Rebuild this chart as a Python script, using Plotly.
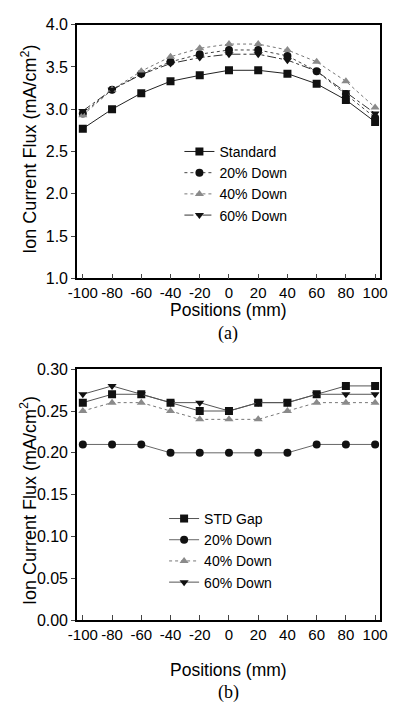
import plotly.graph_objects as go

positions = [-100, -80, -60, -40, -20, 0, 20, 40, 60, 80, 100]

# Panel (a)
a_names = ["Standard", "20% Down", "40% Down", "60% Down"]
a_standard = [2.77, 3.00, 3.19, 3.33, 3.40, 3.46, 3.46, 3.42, 3.30, 3.11, 2.85]
a_down20 = [2.95, 3.23, 3.42, 3.56, 3.65, 3.70, 3.70, 3.63, 3.45, 3.18, 2.90]
a_down40 = [2.93, 3.23, 3.45, 3.62, 3.72, 3.77, 3.77, 3.70, 3.56, 3.33, 3.02]
a_down60 = [2.98, 3.23, 3.41, 3.54, 3.61, 3.65, 3.65, 3.58, 3.45, 3.20, 2.95]

# Panel (b)
b_names = ["STD Gap", "20% Down", "40% Down", "60% Down"]
b_std = [0.26, 0.27, 0.27, 0.26, 0.25, 0.25, 0.26, 0.26, 0.27, 0.28, 0.28]
b_down20 = [0.21, 0.21, 0.21, 0.20, 0.20, 0.20, 0.20, 0.20, 0.21, 0.21, 0.21]
b_down40 = [0.25, 0.26, 0.26, 0.25, 0.24, 0.24, 0.24, 0.25, 0.26, 0.26, 0.26]
b_down60 = [0.27, 0.28, 0.27, 0.26, 0.26, 0.25, 0.26, 0.26, 0.27, 0.27, 0.27]

x_ticks = [-100, -80, -60, -40, -20, 0, 20, 40, 60, 80, 100]
x_ticktext = ["-100", "-80", "-60", "-40", "-20", "0", "20", "40", "60", "80", "100"]
a_yticks = [1.0, 1.5, 2.0, 2.5, 3.0, 3.5, 4.0]
b_yticks = [0.00, 0.05, 0.10, 0.15, 0.20, 0.25, 0.30]

FONT = "Liberation Sans"
W, H = 399, 714

styles = [
    dict(symbol="square", color="#111111", dash="solid", lc="#222222"),
    dict(symbol="circle", color="#111111", dash="dot", lc="#444444"),
    dict(symbol="triangle-up", color="#8a8a8a", dash="dot", lc="#777777"),
    dict(symbol="triangle-down", color="#111111", dash="dashdot", lc="#333333"),
]

fig = go.Figure()

for name, ys, st in zip(a_names, [a_standard, a_down20, a_down40, a_down60], styles):
    fig.add_trace(go.Scatter(
        x=positions, y=ys, name=name, mode="lines+markers",
        xaxis="x", yaxis="y", legend="legend",
        line=dict(color=st["lc"], width=1, dash=st["dash"]),
        marker=dict(symbol=st["symbol"], size=8, color=st["color"]),
    ))

b_styles = [
    dict(symbol="square", color="#111111", dash="solid", lc="#555555"),
    dict(symbol="circle", color="#111111", dash="solid", lc="#666666"),
    dict(symbol="triangle-up", color="#8a8a8a", dash="dot", lc="#777777"),
    dict(symbol="triangle-down", color="#111111", dash="solid", lc="#555555"),
]
for name, ys, st in zip(b_names, [b_std, b_down20, b_down40, b_down60], b_styles):
    fig.add_trace(go.Scatter(
        x=positions, y=ys, name=name, mode="lines+markers",
        xaxis="x2", yaxis="y2", legend="legend2",
        line=dict(color=st["lc"], width=1, dash=st["dash"]),
        marker=dict(symbol=st["symbol"], size=8, color=st["color"]),
    ))

xdom = [71 / W, 387 / W]
ax_common = dict(
    showgrid=False, zeroline=False, showline=True, linecolor="black",
    linewidth=1.5, mirror=True,
)
xfont = dict(family=FONT, size=15, color="black")
yfont = dict(family=FONT, size=16, color="black")

fig.update_layout(
    width=W, height=H,
    margin=dict(l=0, r=0, t=0, b=0),
    paper_bgcolor="white", plot_bgcolor="white",
    font=dict(family=FONT, color="black"),
    xaxis=dict(domain=xdom, anchor="y", range=[-104, 103], tickvals=x_ticks,
               ticktext=x_ticktext, tickangle=0, tickfont=xfont,
               ticks="inside", ticklen=5, **ax_common),
    yaxis=dict(domain=[1 - 277 / H, 1 - 17 / H], anchor="x", range=[1.0, 4.0],
               tickvals=a_yticks, tickformat=".1f", ticks="outside", ticklen=4,
               tickfont=yfont, **ax_common),
    xaxis2=dict(domain=xdom, anchor="y2", range=[-104, 103], tickvals=x_ticks,
                ticktext=x_ticktext, tickangle=0, tickfont=xfont,
                ticks="inside", ticklen=5, **ax_common),
    yaxis2=dict(domain=[1 - 627 / H, 1 - 370 / H], anchor="x2", range=[0.0, 0.30],
                tickvals=b_yticks, tickformat=".2f", ticks="outside", ticklen=4,
                tickfont=yfont, **ax_common),
    legend=dict(x=178 / W, y=1 - 131 / H, xanchor="left", yanchor="top",
                bgcolor="rgba(0,0,0,0)", tracegroupgap=0, itemwidth=30,
                font=dict(family=FONT, size=14, color="black")),
    legend2=dict(x=162 / W, y=1 - 507 / H, xanchor="left", yanchor="top",
                 bgcolor="rgba(0,0,0,0)", tracegroupgap=0, itemwidth=30,
                 font=dict(family=FONT, size=14, color="black")),
)

ann = []
ytitle = "Ion Current Flux (mA/cm<sup>2</sup>)"


def add(text, x, y, size, family=FONT, angle=0):
    ann.append(dict(text=text, x=x / W, y=1 - y / H, xref="paper", yref="paper",
                    xanchor="center", yanchor="middle", textangle=angle,
                    showarrow=False, font=dict(family=family, size=size, color="black")))


add(ytitle, 21, 145, 18, angle=-90)
add(ytitle, 21, 505, 18, angle=-90)
add("Positions (mm)", 229, 309, 17.5)
add("Positions (mm)", 229, 678, 17.5)
add("(a)", 229, 333, 18, family="Liberation Serif")
add("(b)", 229, 701, 18, family="Liberation Serif")
fig.update_layout(annotations=ann)

fig.write_html("out.html")
